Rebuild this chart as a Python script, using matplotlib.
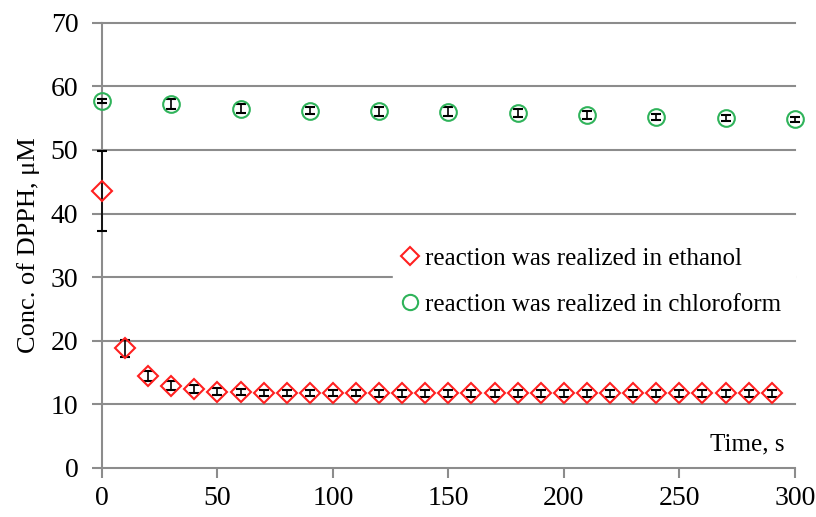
import matplotlib
matplotlib.use("Agg")
import matplotlib.pyplot as plt
from matplotlib.lines import Line2D

plt.rcParams["font.family"] = ["Liberation Serif", "DejaVu Serif"]

# DPPH decay, ethanol (every 10 s)
eth_t = [0, 10, 20, 30, 40, 50, 60, 70, 80, 90, 100, 110, 120, 130, 140,
         150, 160, 170, 180, 190, 200, 210, 220, 230, 240, 250, 260, 270, 280, 290]
eth_c = [43.5, 18.8, 14.4, 12.9, 12.4, 12.0, 11.9, 11.8, 11.8, 11.8, 11.8, 11.8, 11.7, 11.7, 11.7,
         11.7, 11.7, 11.7, 11.7, 11.7, 11.7, 11.7, 11.7, 11.7, 11.7, 11.7, 11.7, 11.7, 11.7, 11.7]
eth_err = [6.3, 1.3, 0.8, 0.7, 0.6, 0.5, 0.5, 0.5, 0.5, 0.5, 0.5, 0.5, 0.5, 0.5, 0.5,
           0.5, 0.5, 0.5, 0.5, 0.5, 0.5, 0.5, 0.5, 0.5, 0.5, 0.5, 0.5, 0.5, 0.5, 0.5]

# DPPH decay, chloroform (every 30 s)
chl_t = [0, 30, 60, 90, 120, 150, 180, 210, 240, 270, 300]
chl_c = [57.7, 57.2, 56.5, 56.2, 56.1, 56.0, 55.8, 55.5, 55.2, 55.0, 54.8]
chl_err = [0.3, 0.8, 0.7, 0.6, 0.7, 0.7, 0.7, 0.6, 0.5, 0.5, 0.4]

eth_label = "reaction was realized in ethanol"
chl_label = "reaction was realized in chloroform"

fig = plt.figure(figsize=(8.16, 5.17), dpi=100)
ax = fig.add_axes([0.125, 0.095, 0.849, 0.861])

grid_col = "#8c8c8c"
ax.set_xlim(0, 300)
ax.set_ylim(0, 70)
ax.set_yticks(range(0, 71, 10))
ax.set_xticks(range(0, 301, 50))
for y in range(10, 71, 10):
    ax.axhline(y, color=grid_col, lw=1.5, zorder=0, clip_on=False)

ax.errorbar(eth_t, eth_c, yerr=eth_err, fmt="D", ms=10, mfc="none", mec="#ff2020", mew=1.5,
            ecolor="black", elinewidth=1.2, capsize=3.5, capthick=1.2, clip_on=False, zorder=3)
ax.errorbar(chl_t, chl_c, yerr=chl_err, fmt="o", ms=12, mfc="none", mec="#2fb35a", mew=1.5,
            ecolor="black", elinewidth=1.2, capsize=3.5, capthick=1.2, clip_on=False, zorder=3)

for side in ("top", "right"):
    ax.spines[side].set_visible(False)
for side in ("left", "bottom"):
    ax.spines[side].set_color(grid_col)
    ax.spines[side].set_linewidth(1.5)
ax.tick_params(axis="both", colors=grid_col, labelcolor="black", labelsize=20, width=1.5, length=7)
ax.tick_params(axis="y", pad=10)
ax.tick_params(axis="x", pad=6)

ax.set_ylabel("Conc. of DPPH, \u03bcM", fontsize=19, labelpad=8)
ax.text(0.985, 0.04, "Time, s", transform=ax.transAxes, fontsize=18, ha="right", va="baseline")

# legend box spans to the right edge and hides part of the 30 gridline
handles = [
    Line2D([], [], ls="none", marker="D", ms=9, mfc="none", mec="#ff2020", mew=1.5),
    Line2D([], [], ls="none", marker="o", ms=11, mfc="none", mec="#2fb35a", mew=1.5),
]
leg = ax.legend(handles, [eth_label, chl_label], loc="upper left",
                bbox_to_anchor=(0.42, 0.512, 0.58, 0.0), mode="expand",
                frameon=True, fancybox=False, framealpha=1, edgecolor="white", fontsize=18,
                handlelength=0.8, handletextpad=0.2, labelspacing=0.95, borderpad=0.3,
                borderaxespad=0)
leg.set_zorder(2)

fig.savefig("out.png", dpi=100)
